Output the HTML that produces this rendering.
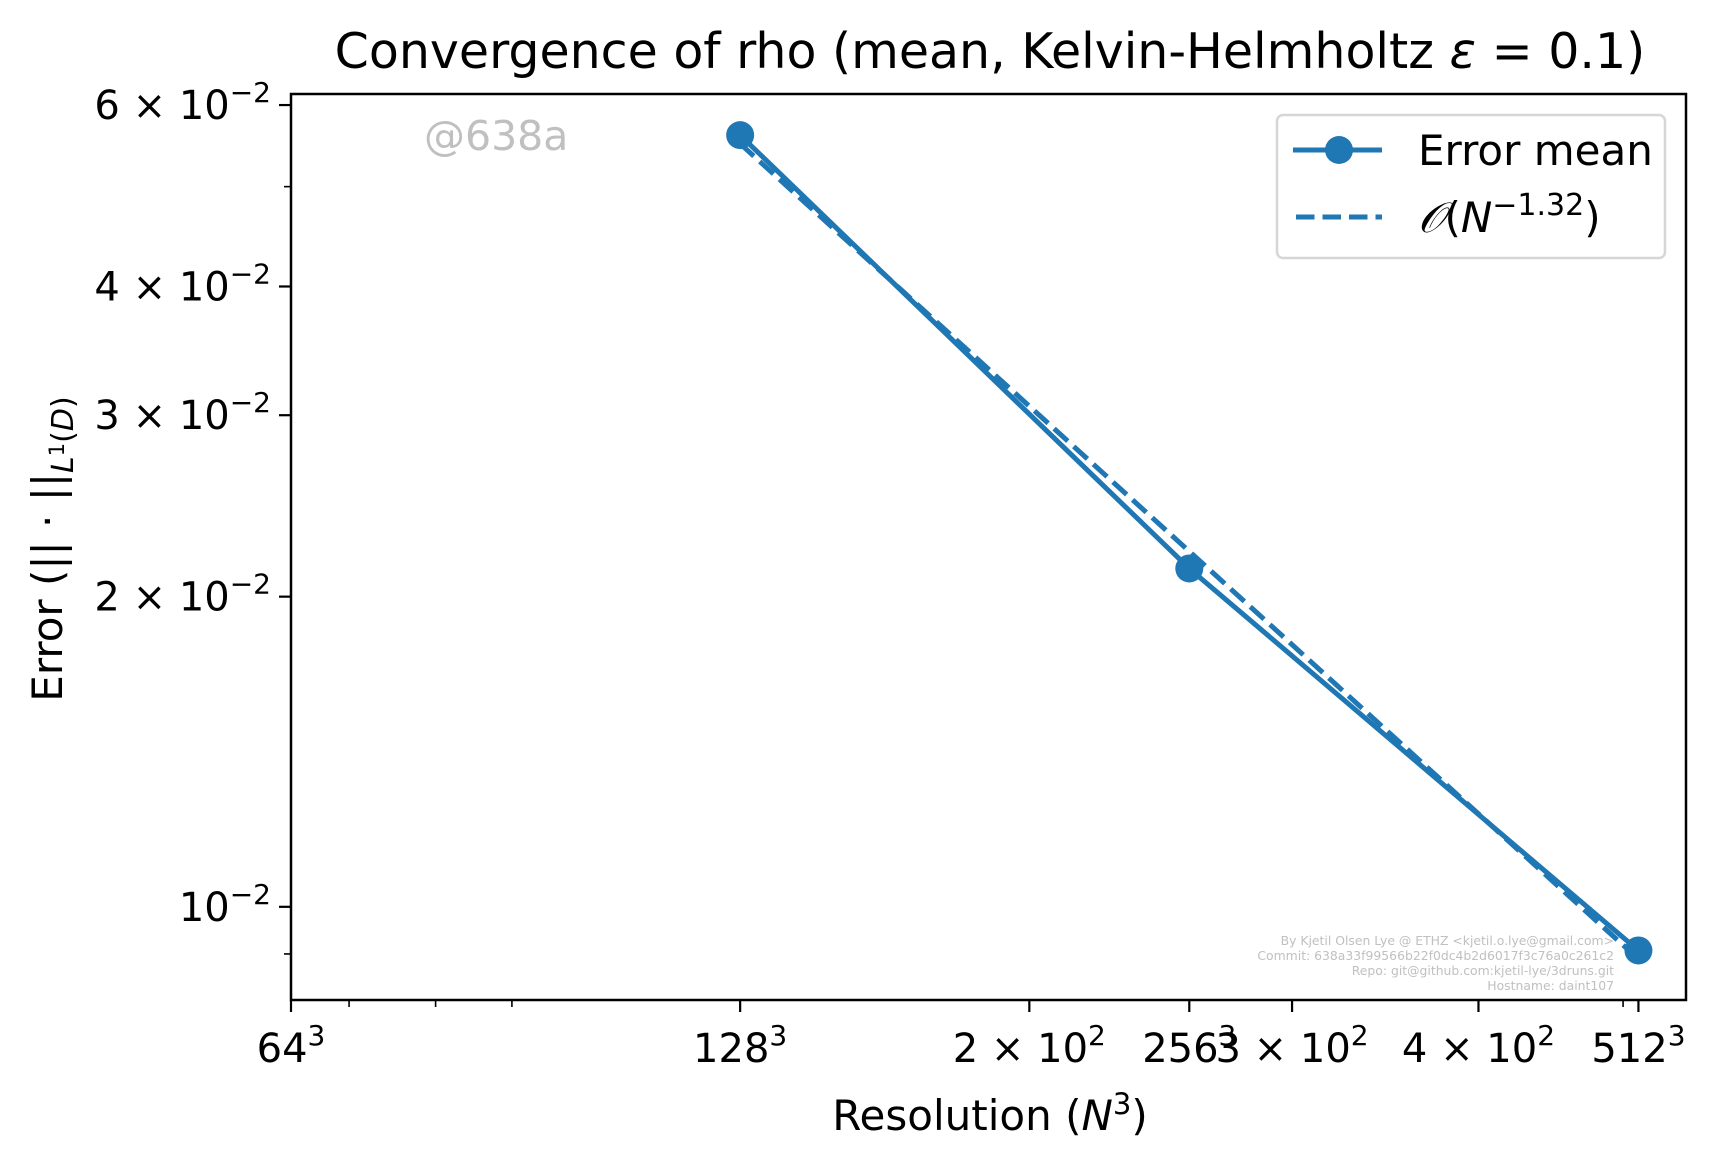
<!DOCTYPE html>
<html><head><meta charset="utf-8"><style>
html,body{margin:0;padding:0;background:#fff;}
svg text{font-family:"DejaVu Sans","Liberation Sans",sans-serif;}
</style></head><body>
<svg id="chart" width="1718" height="1166" viewBox="0 0 1718 1166" xmlns="http://www.w3.org/2000/svg">
<rect width="1718" height="1166" fill="#fff"/>
<text x="990" y="68" font-size="49" text-anchor="middle">Convergence of rho (mean, Kelvin-Helmholtz <tspan font-style="italic">ε</tspan> = 0.1)</text>
<text x="424" y="150" font-size="41" fill="#c0c0c0">@638a</text>
<g id="marks"></g>
<g id="axes"></g>
<g font-size="12.4" fill="#c0c0c0" text-anchor="end">
<text x="1614" y="945">By Kjetil Olsen Lye @ ETHZ &lt;kjetil.o.lye@gmail.com&gt;</text>
<text x="1614" y="960">Commit: 638a33f99566b22f0dc4b2d6017f3c76a0c261c2</text>
<text x="1614" y="975">Repo: git@github.com:kjetil-lye/3druns.git</text>
<text x="1614" y="990">Hostname: daint107</text>
</g>
<g>
<rect x="1277" y="115" width="388" height="143" rx="6" fill="#fff" fill-opacity="0.8" stroke="#d6d6d6" stroke-width="2.5"/>
<line x1="1293" y1="150" x2="1382" y2="150" stroke="#1f77b4" stroke-width="5"/>
<circle cx="1339" cy="150" r="14" fill="#1f77b4"/>
<text x="1418" y="165" font-size="42">Error mean</text>
<line x1="1296" y1="217" x2="1382" y2="217" stroke="#1f77b4" stroke-width="5" stroke-dasharray="18.5,8"/>
<text x="1418" y="232" font-size="42"><tspan font-family="'DejaVu Serif',serif" font-style="italic">𝒪</tspan>(<tspan font-style="italic">N</tspan><tspan dy="-17" font-size="30">−1.32</tspan><tspan dy="17">)</tspan></text>
</g>
<text x="990" y="1130" font-size="42" text-anchor="middle">Resolution (<tspan font-style="italic">N</tspan><tspan dy="-16" font-size="29">3</tspan><tspan dy="16">)</tspan></text>
<text transform="translate(62,549) rotate(-90)" font-size="42" text-anchor="middle">Error (|| · ||<tspan dy="11" font-size="30"><tspan font-style="italic">L</tspan><tspan dy="-9" font-size="21">1</tspan><tspan dy="9">(</tspan><tspan font-style="italic">D</tspan>)</tspan></text>
</svg>
<script>
const resolutions = [128, 256, 512];
const errorMean = [0.0561, 0.0213, 0.00907];
const xMajorTicks = [64, 128, 200, 256, 300, 400, 512];
const xMajorLabels = [["64","3"],["128","3"],["2 × 10","2"],["256","3"],["3 × 10","2"],["4 × 10","2"],["512","3"]];
const xMinorTicks = [70, 80, 90, 500];
const yMajorTicks = [0.06, 0.04, 0.03, 0.02, 0.01];
const yMajorLabels = [["6 × 10","−2"],["4 × 10","−2"],["3 × 10","−2"],["2 × 10","−2"],["10","−2"]];
const yMinorTicks = [0.05, 0.009];

const L=291,R=1686,T=94,B=1000;
const xMin=64,xMax=551,yMin=0.00812,yMax=0.0615;
const NS="http://www.w3.org/2000/svg";
function X(v){return L+(Math.log(v)-Math.log(xMin))/(Math.log(xMax)-Math.log(xMin))*(R-L);}
function Y(v){return B-(Math.log(v)-Math.log(yMin))/(Math.log(yMax)-Math.log(yMin))*(B-T);}
function mk(tag,attrs,parent){const e=document.createElementNS(NS,tag);for(const k in attrs)e.setAttribute(k,attrs[k]);parent.appendChild(e);return e;}
const marks=document.getElementById('marks'), axes=document.getElementById('axes');

const lx=resolutions.map(Math.log), ly=errorMean.map(Math.log);
const mx=lx.reduce((a,b)=>a+b)/lx.length, my=ly.reduce((a,b)=>a+b)/ly.length;
let sxy=0,sxx=0;for(let i=0;i<lx.length;i++){sxy+=(lx[i]-mx)*(ly[i]-my);sxx+=(lx[i]-mx)**2;}
const slope=sxy/sxx, icpt=my-slope*mx;
const fitPts=resolutions.map(r=>X(r)+','+Y(Math.exp(icpt+slope*Math.log(r)))).join(' ');
const fit=mk('polyline',{points:fitPts,fill:'none',stroke:'#1f77b4','stroke-width':5,'stroke-dasharray':'18.5,8'},marks);


const line=mk('polyline',{points:resolutions.map((r,i)=>X(r)+','+Y(errorMean[i])).join(' '),fill:'none',stroke:'#1f77b4','stroke-width':5},marks);


resolutions.forEach((r,i)=>{
  const c=mk('circle',{cx:X(r),cy:Y(errorMean[i]),r:14,fill:'#1f77b4'},marks);
  
  
});

const frame=mk('rect',{x:L,y:T,width:R-L,height:B-T,fill:'none',stroke:'#000','stroke-width':2.5},axes);


xMajorTicks.forEach((v,i)=>{
  const x=X(v);
  mk('line',{x1:x,y1:B,x2:x,y2:B+12,stroke:'#000','stroke-width':2.2},axes);
  const t=mk('text',{x:x,y:B+62,'font-size':40,'text-anchor':'middle'},axes);
  
  
  t.textContent=xMajorLabels[i][0];
  const s=mk('tspan',{dy:-17,'font-size':28},t);s.textContent=xMajorLabels[i][1];
});
xMinorTicks.forEach(v=>{const x=X(v);mk('line',{x1:x,y1:B,x2:x,y2:B+7,stroke:'#000','stroke-width':1.6},axes);});
yMajorTicks.forEach((v,i)=>{
  const y=Y(v);
  mk('line',{x1:L,y1:y,x2:L-12,y2:y,stroke:'#000','stroke-width':2.2},axes);
  const t=mk('text',{x:L-20,y:y+14,'font-size':40,'text-anchor':'end'},axes);
  
  
  t.textContent=yMajorLabels[i][0];
  const s=mk('tspan',{dy:-17,'font-size':28},t);s.textContent=yMajorLabels[i][1];
});
yMinorTicks.forEach(v=>{const y=Y(v);mk('line',{x1:L,y1:y,x2:L-7,y2:y,stroke:'#000','stroke-width':1.6},axes);});
</script>
</body></html>
